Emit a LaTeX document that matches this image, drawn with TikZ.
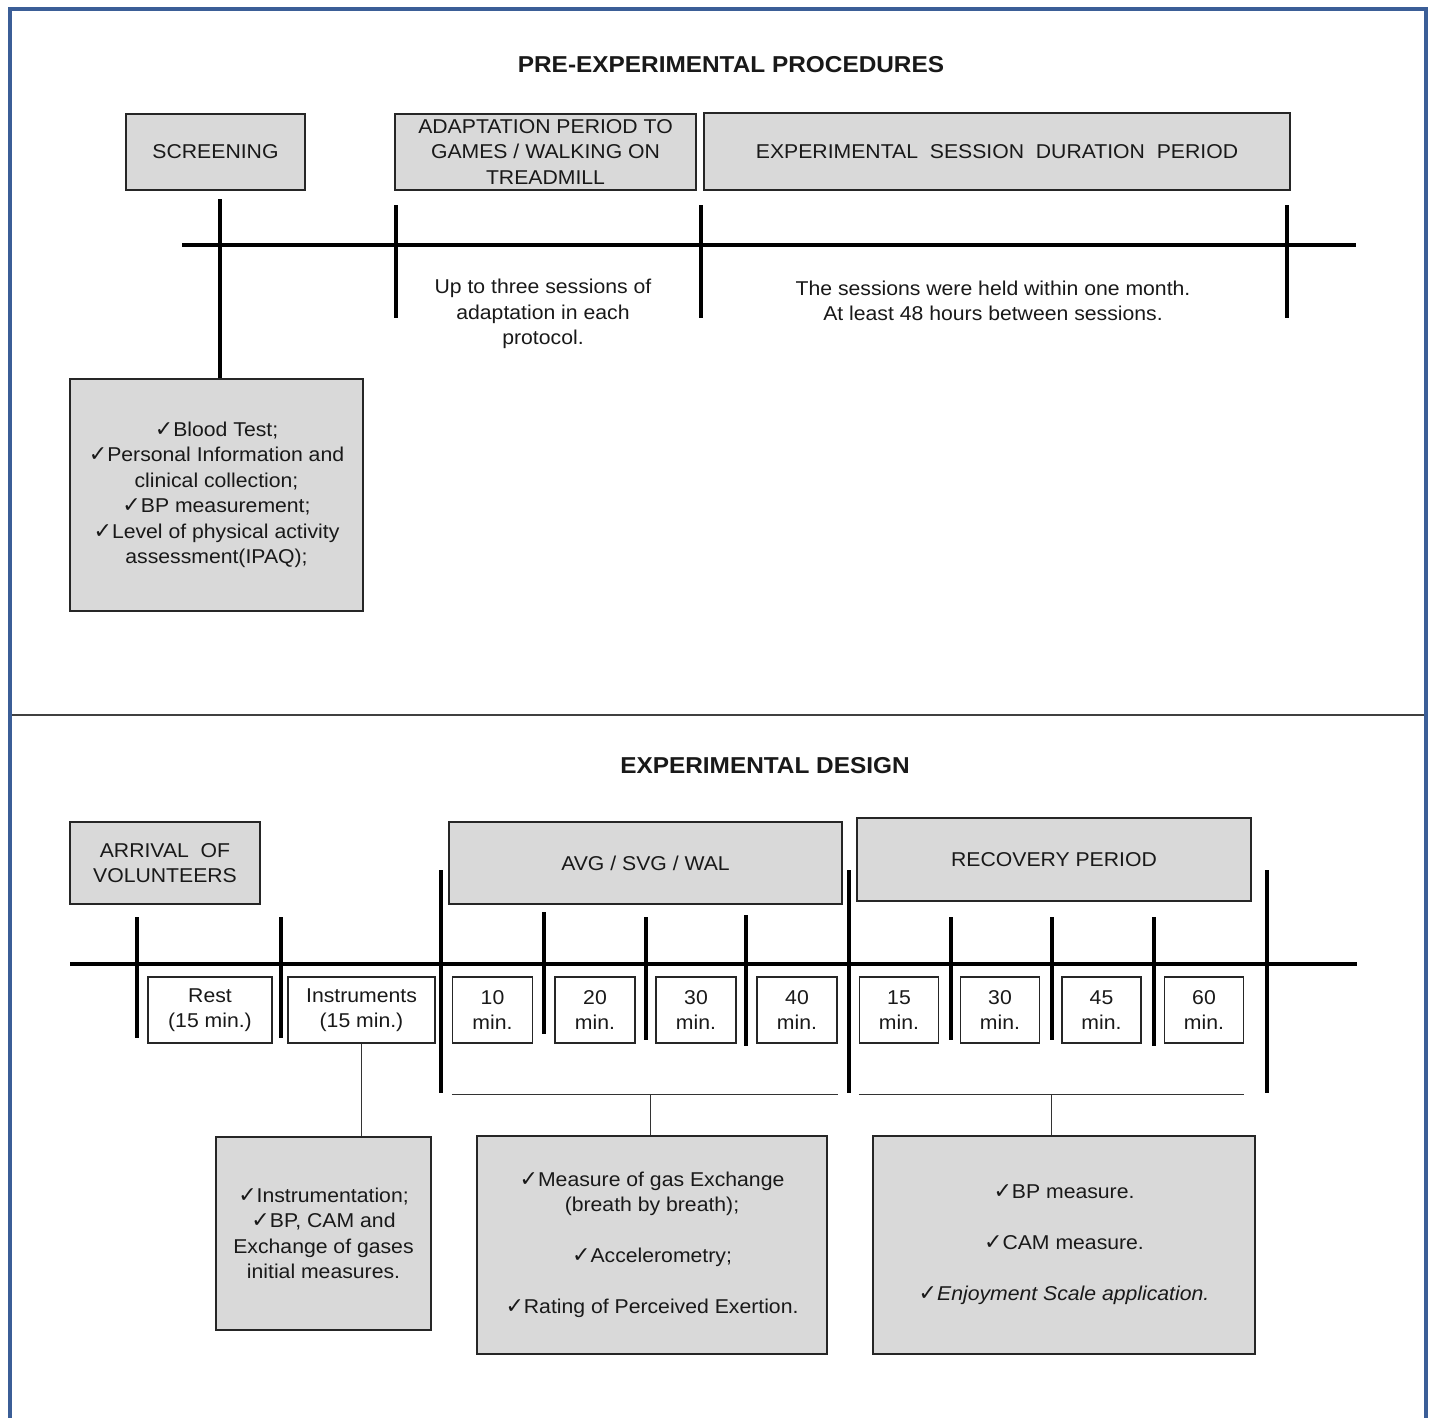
\documentclass[tikz,border=0pt]{standalone}
\usepackage{fontspec}
\setmainfont{Liberation Sans}[FakeStretch=1.06]
\newfontfamily\symfont{DejaVu Sans}
\usetikzlibrary{positioning}
\definecolor{frameblue}{HTML}{3B5E97}
\definecolor{boxgray}{HTML}{D9D9D9}
\newcommand{\chk}{{\symfont\fontsize{22}{22}\selectfont ✓}}
\newcommand{\bodyfont}{\fontsize{20}{25.5}\selectfont}

\begin{document}
\begin{tikzpicture}[
    x=1pt, y=-1pt,
    graybox/.style={draw=black!85, fill=boxgray, line width=1.5pt, align=center, inner sep=1pt, font=\bodyfont, text=black!90},
    minbox/.style={draw=black!85, fill=white, line width=1.3pt, align=center, minimum height=66, inner sep=1pt, font=\bodyfont, text=black!90},
    note/.style={align=center, font=\bodyfont, text=black!90},
    heading/.style={font=\fontsize{23}{26}\bfseries\selectfont, text=black!90},
    axis/.style={line width=4pt},
    tickline/.style={line width=4pt},
    bracket/.style={line width=1.2pt, black!80}
]
\useasboundingbox (0,0) rectangle (1432,1418);
\fill[white] (0,0) rectangle (1432,1418);

% frame and divider
\draw[frameblue, line width=4pt] (10,1420) -- (10,9) -- (1426,9) -- (1426,1420);
\draw[black!75, line width=1.5pt] (12,715) -- (1424,715);

% ---------- pre-experimental procedures ----------
\node[heading] (title1) at (731,65) {PRE-EXPERIMENTAL PROCEDURES};

\node[graybox, minimum width=179, minimum height=76] (scr) at (215.5,152) {SCREENING};
\node[graybox, minimum width=301, minimum height=76] (adapt) at (545.5,152) {ADAPTATION PERIOD TO\\GAMES / WALKING ON\\TREADMILL};
\node[graybox, minimum width=586, minimum height=77] (sess) at (997,151.5) {EXPERIMENTAL \ SESSION \ DURATION \ PERIOD};

\draw[axis] (182,245) -- (1356,245);
\foreach \x in {396,701,1287}
    \draw[tickline] (\x,205) -- (\x,318);

\node[note] (adaptnote) at (543,314) {Up to three sessions of\\adaptation in each\\protocol.};
\node[note] (sessnote) at (993,301) {The sessions were held within one month.\\At least 48 hours between sessions.};

\node[graybox, minimum width=293, minimum height=232] (scrdet) at (216.5,495) {\chk Blood Test;\\\chk Personal Information and\\clinical collection;\\\chk BP measurement;\\\chk Level of physical activity\\assessment(IPAQ);};
\draw[tickline] ([xshift=3.5]scrdet.north) -- ++(0,-179);

% ---------- experimental design ----------
\node[heading] (title2) at (765,766) {EXPERIMENTAL DESIGN};

\node[graybox, minimum width=190, minimum height=82] (arrival) at (165,863) {ARRIVAL \ OF\\VOLUNTEERS};
\node[graybox, minimum width=393, minimum height=82] (avg) at (645.5,863) {AVG / SVG / WAL};
\node[graybox, minimum width=394, minimum height=83] (recov) at (1054,859.5) {RECOVERY PERIOD};

\draw[axis] (70,964) -- (1357,964);
\foreach \x/\a/\b in {137/917/1038, 281/917/1038, 441/870/1093, 544/912/1034, 646/917/1040, 746/915/1046,
    849/870/1093, 951/917/1040, 1052/917/1040, 1154/917/1046, 1267/870/1093}
    \draw[tickline] (\x,\a) -- (\x,\b);

\node[minbox, minimum width=124] (rest) at (210,1010) {Rest\\(15 min.)};
\node[minbox, minimum width=147] (instr) at (361.5,1010) {Instruments\\(15 min.)};
\foreach \x/\t [count=\i] in {492.5/10, 595/20, 696/30, 797/40}
    \node[minbox, minimum width=80] (ex\i) at (\x,1010) {\t\\min.};
\foreach \x/\t [count=\i] in {899/15, 1000/30, 1101.5/45, 1204/60}
    \node[minbox, minimum width=79] (rc\i) at (\x,1010) {\t\\min.};

% details
\node[graybox, minimum width=215, minimum height=193] (instrdet) at (323.5,1233.5) {\chk Instrumentation;\\\chk BP, CAM and\\Exchange of gases\\initial measures.};
\node[graybox, minimum width=350, minimum height=218] (gasdet) at (652,1245) {\chk Measure of gas Exchange\\(breath by breath);\\[25.5pt]\chk Accelerometry;\\[25.5pt]\chk Rating of Perceived Exertion.};
\node[graybox, minimum width=382, minimum height=218] (recdet) at (1064,1245) {\chk BP measure.\\[25.5pt]\chk CAM measure.\\[25.5pt]\chk\textit{Enjoyment Scale application.}};

\draw[bracket] (instr.south) -- (instr.south |- instrdet.north);
\draw[bracket] ([yshift=-51]ex1.south west) -- coordinate[pos=0.514] (exmid) ([yshift=-51]ex4.south east);
\draw[bracket] (exmid) -- (exmid |- gasdet.north);
\draw[bracket] ([yshift=-51]rc1.south west) -- coordinate[pos=0.5] (rcmid) ([yshift=-51]rc4.south east);
\draw[bracket] (rcmid) -- (rcmid |- recdet.north);
\end{tikzpicture}
\end{document}
